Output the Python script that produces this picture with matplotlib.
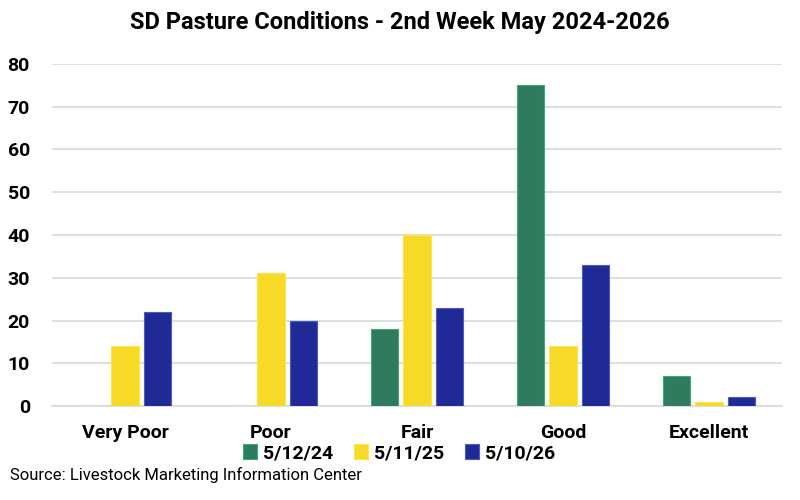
import numpy as np
import matplotlib
matplotlib.use("Agg")
import matplotlib.pyplot as plt

categories = ["Very Poor", "Poor", "Fair", "Good", "Excellent"]
series_names = ["5/12/24", "5/11/25", "5/10/26"]
vals_2024 = [0, 0, 18, 75, 7]
vals_2025 = [14, 31, 40, 14, 1]
vals_2026 = [22, 20, 23, 33, 2]
y_ticks = [0, 10, 20, 30, 40, 50, 60, 70, 80]

COLORS = ["#2E7B5E", "#F7D928", "#1F2A96"]
EDGES = ["#3DAA72", "#FFE44D", "#4A5CC0"]

plt.rcParams['font.family'] = ['Roboto', 'DejaVu Sans']

fig = plt.figure(figsize=(8, 5), dpi=100)
ax = fig.add_axes([0.065, 0.188, 0.9125, 0.684])

x = np.arange(len(categories))
width = 0.185
offset = 0.225
for i, (name, vals) in enumerate(zip(series_names, [vals_2024, vals_2025, vals_2026])):
    ax.bar(x + (i - 1) * offset, vals, width, color=COLORS[i], edgecolor=EDGES[i],
           linewidth=0.8, label=name, zorder=3)

ax.set_xlim(-0.5, len(categories) - 0.5)
ax.set_ylim(0, 80)
ax.set_yticks(y_ticks)
ax.yaxis.grid(True, color="#d9d9d9", linewidth=1.2, zorder=0)
ax.set_xticks(x)
ax.set_xticklabels(categories, fontsize=14, fontweight="bold")
for lbl in ax.get_yticklabels():
    lbl.set_fontsize(14)
    lbl.set_fontweight("bold")
ax.tick_params(axis="x", length=0, pad=13)
ax.tick_params(axis="y", length=0, pad=16)
for side in ["top", "right", "left"]:
    ax.spines[side].set_visible(False)
ax.spines["bottom"].set_color("#d9d9d9")
ax.spines["bottom"].set_linewidth(1.2)

fig.suptitle("SD Pasture Conditions - 2nd Week May 2024-2026", x=0.5, y=0.978,
             fontsize=17, fontweight="bold")

leg = fig.legend(loc="center", bbox_to_anchor=(0.499, 0.093), ncol=3, frameon=False,
                 prop={"size": 14, "weight": "bold"}, handlelength=0.7,
                 handleheight=0.8, handletextpad=0.3, columnspacing=1.1)

fig.text(0.013, 0.04, "Source: Livestock Marketing Information Center", fontsize=12)

fig.savefig("out.png", dpi=100)
